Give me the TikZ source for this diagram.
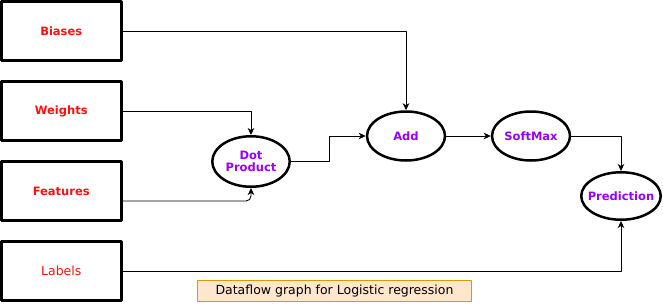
\documentclass[tikz,border=0pt]{standalone}
\usepackage{fontspec}
\setmainfont{DejaVu Sans}
\usetikzlibrary{arrows.meta,positioning,shapes.geometric}
\definecolor{inred}{HTML}{FF1010}
\definecolor{oppurple}{HTML}{9500FF}
\definecolor{ink}{HTML}{000000}
\definecolor{capfill}{HTML}{FFE6CC}
\definecolor{capline}{HTML}{D79B00}
\tikzset{
  >={Stealth[length=7pt,width=6.5pt,inset=2pt]},
  every picture/.style={line join=round},
  txt/.style={font=\fontsize{12.5}{15}\selectfont},
  btxt/.style={font=\fontsize{11.5}{14}\selectfont\bfseries},
  inbox/.style={draw=ink, line width=3pt, minimum width=119.5pt,
    minimum height=59pt, inner sep=0pt, btxt, text=inred},
  opnode/.style={ellipse, draw=ink, line width=2.5pt, minimum width=78pt,
    minimum height=49pt, inner sep=0pt, align=center, btxt, text=oppurple},
  arr/.style={->, draw=ink, line width=0.9pt},
  caption/.style={draw=capline, fill=capfill, line width=0.8pt, txt,
    minimum width=274pt, minimum height=21pt, inner sep=0pt, text=ink},
}

\begin{document}
\begin{tikzpicture}[x=1pt,y=-1pt]
  \useasboundingbox (0,0) rectangle (663,303);
  % =================== inputs ===================
  \node[inbox] (biases) at (61.25,31) {Biases};
  \node[inbox] (weights) at (61.25,111) {Weights};
  \node[inbox] (features) at (61.25,191) {Features};
  \node[inbox, txt] (labels) at (61.25,271) {Labels};

  % =================== operations ===================
  \node[opnode, minimum width=77.5pt, minimum height=50.5pt]
    (dot) at (251,161.5) {Dot\\[-2pt]Product};
  \node[opnode] (add) at (406,136) {Add};
  \node[opnode] (softmax) at (531,136) {SoftMax};
  \node[opnode, minimum width=79.5pt, minimum height=47.5pt, inner xsep=-10pt]
    (pred) at (621,196) {Prediction};

  % =================== flow ===================
  \draw[arr] (biases.east) -| (add.north);
  \draw[arr] (weights.east) -| (dot.north);
  \draw[arr, rounded corners=5pt] ([yshift=-10pt]features.east) -| (dot.south);
  \draw[arr] (dot.east) -- ++(38,0) |- (add.west);
  \draw[arr] (add) -- (softmax);
  \draw[arr] (softmax.east) -| (pred.north);
  \draw[arr] (labels.east) -| (pred.south);

  % caption
  \node[caption] (title) at (334.5,291) {Dataflow graph for Logistic regression};
\end{tikzpicture}
\end{document}
